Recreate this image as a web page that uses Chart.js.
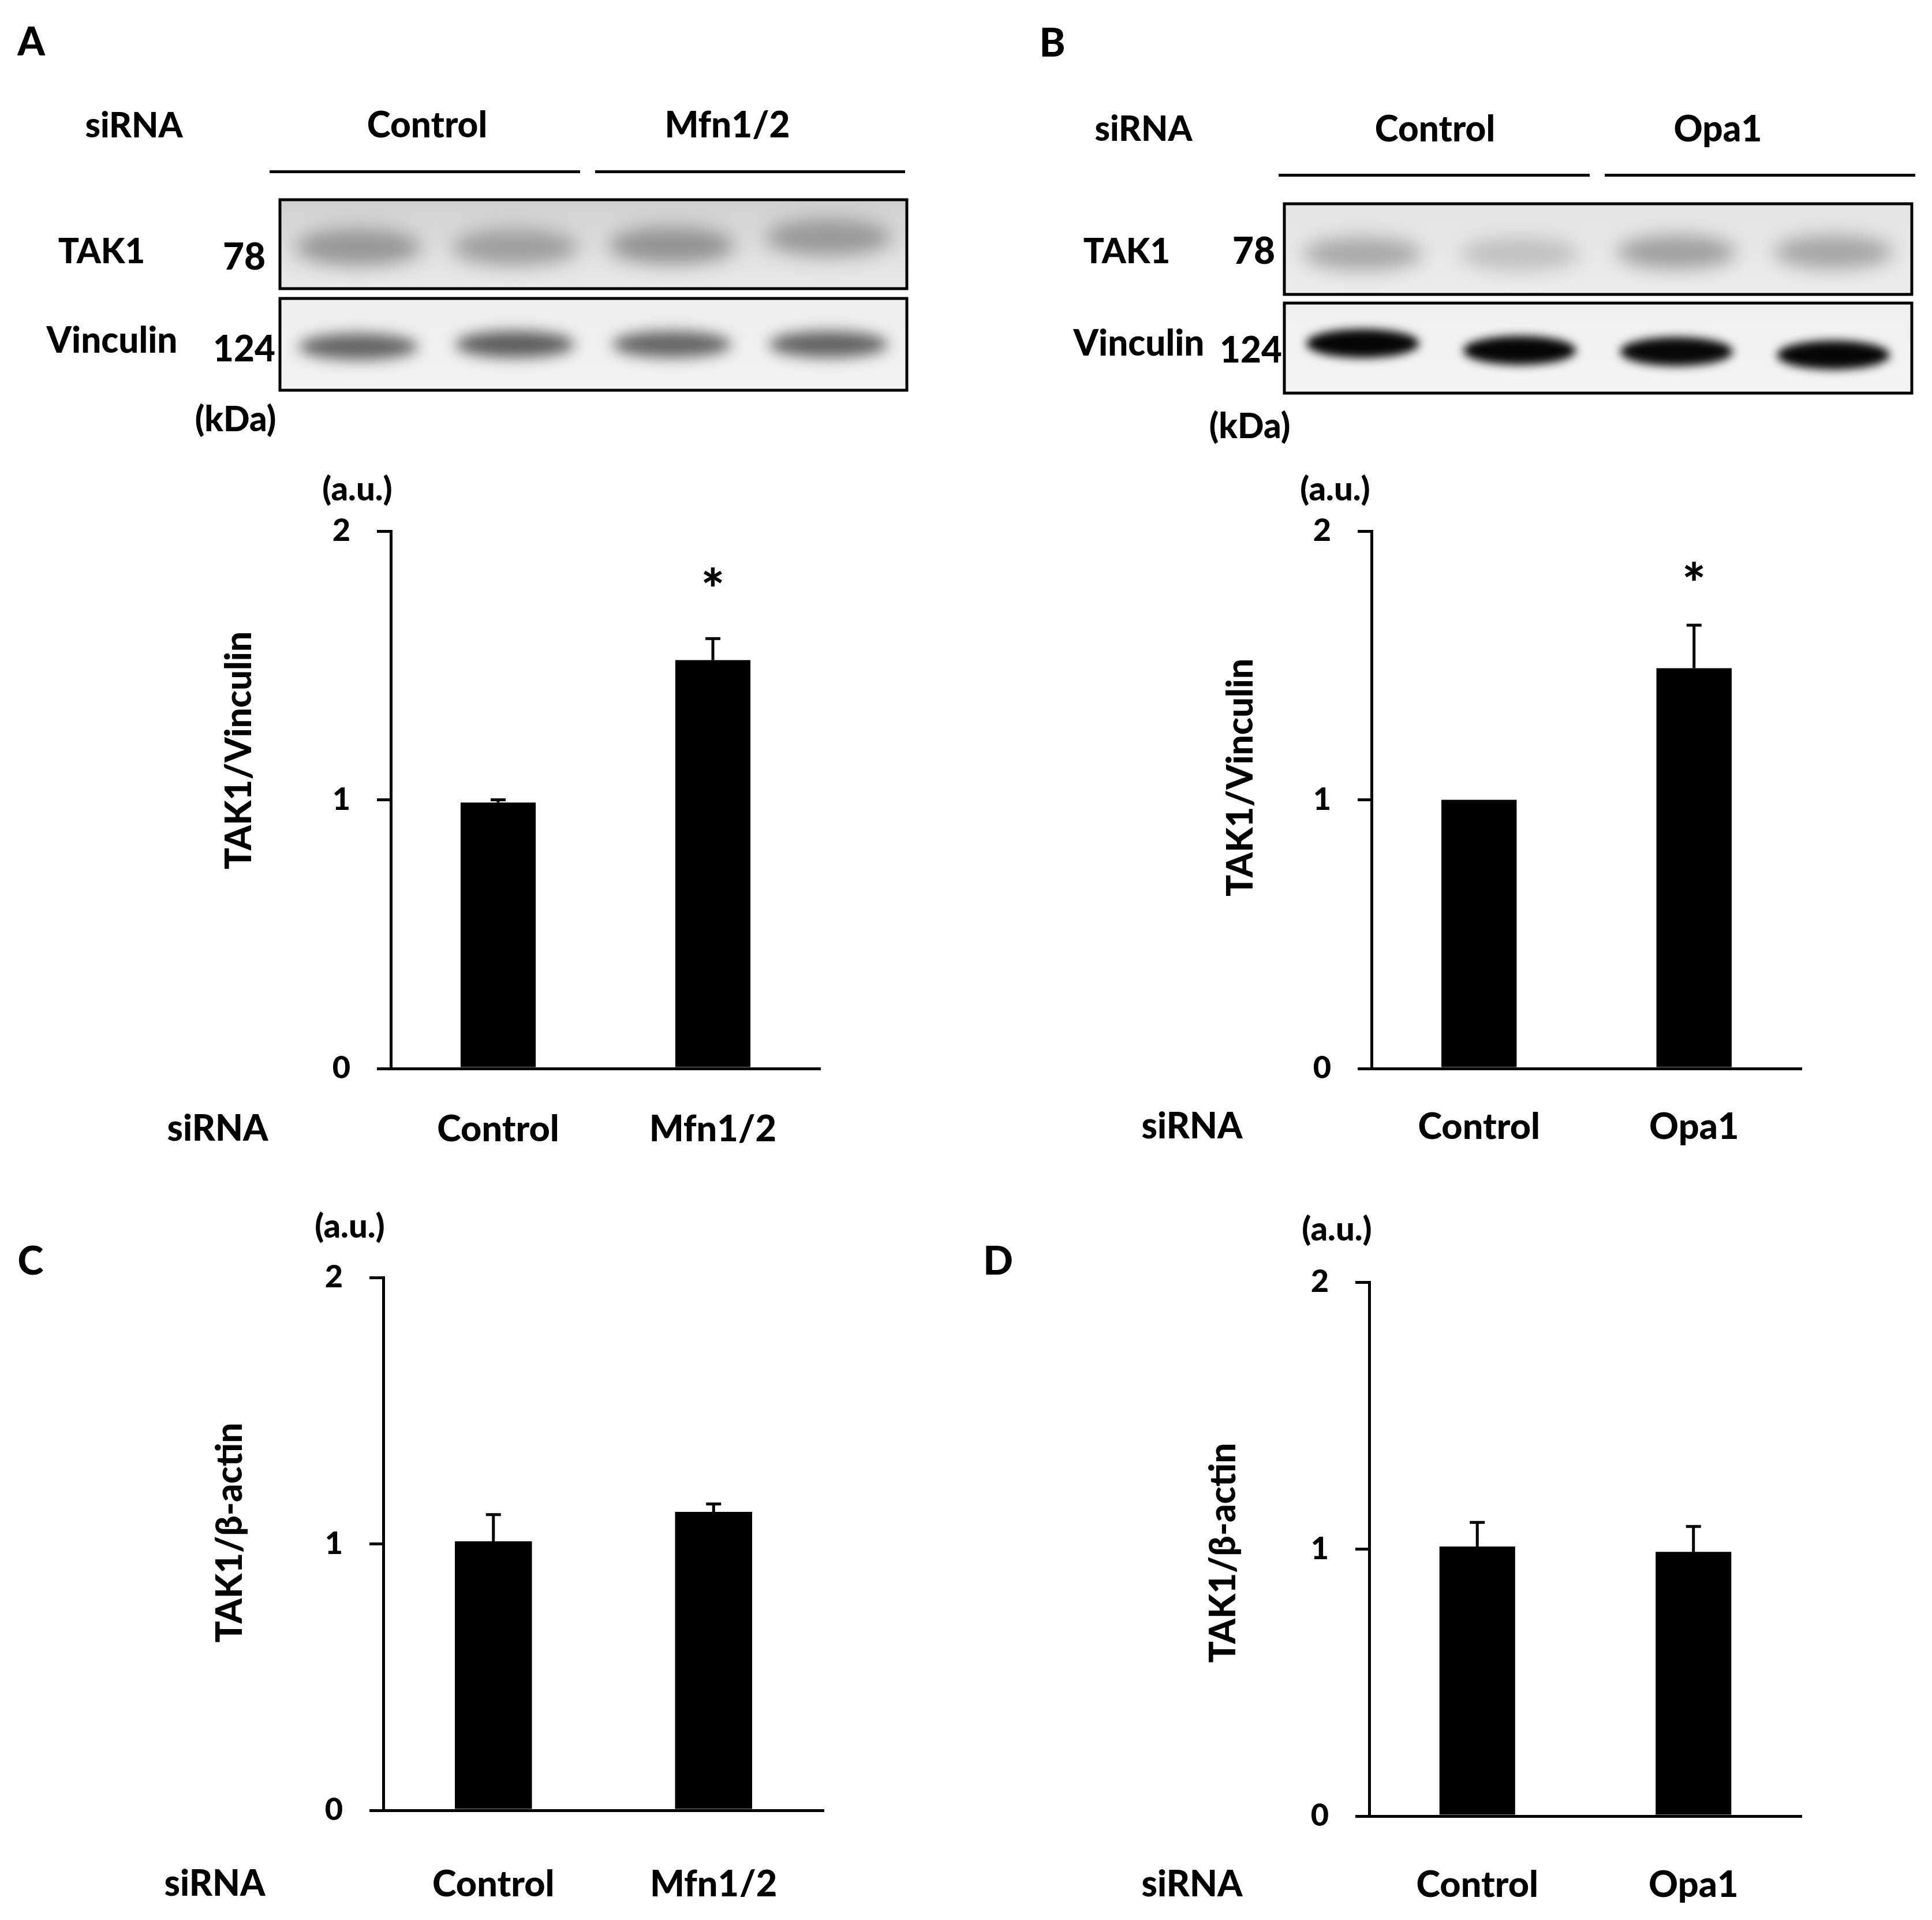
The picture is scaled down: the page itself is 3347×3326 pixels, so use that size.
<!DOCTYPE html>
<html><head><meta charset="utf-8">
<script src="https://cdn.jsdelivr.net/npm/chart.js@4.4.1/dist/chart.umd.min.js"></script>
<style>
html,body{margin:0;padding:0;background:#fff;}
#page{position:relative;width:3347px;height:3326px;background:#fff;overflow:hidden;font-family:Lato,'Open Sans',sans-serif;font-weight:900;color:#000;}
.t{position:absolute;transform:translate(-50%,-50%);white-space:nowrap;line-height:1;}
.ln{position:absolute;background:#000;height:5px;}
canvas{position:absolute;}
</style></head><body><div id="page">
<canvas id="blots" width="3347" height="800" style="left:0;top:0"></canvas>
<canvas id="cA" width="1400" height="1260" style="left:100px;top:780px"></canvas>
<canvas id="cB" width="1400" height="1260" style="left:1800px;top:780px"></canvas>
<canvas id="cC" width="1400" height="1266" style="left:100px;top:2060px"></canvas>
<canvas id="cD" width="1400" height="1266" style="left:1800px;top:2060px"></canvas>
</div>
<script>
// ---------- data ----------
const categoriesMfn = ['Control', 'Mfn1/2'];
const categoriesOpa = ['Control', 'Opa1'];
const valuesA = [0.99, 1.52];
const errorsA = [0.01, 0.08];
const signifA = [false, true];
const valuesB = [1.00, 1.49];
const errorsB = [0.00, 0.16];
const signifB = [false, true];
const valuesC = [1.01, 1.12];
const errorsC = [0.10, 0.03];
const signifC = [false, false];
const valuesD = [1.01, 0.99];
const errorsD = [0.09, 0.095];
const signifD = [false, false];
const yTickValues = [0, 1, 2];
// blot band grey level of band core (0=black, 255=white), 4 lanes
const bandsTak1A = [150, 158, 146, 152];
const bandsVincA = [100, 92, 100, 98];
const bandsTak1B = [168, 192, 158, 164];
const bandsVincB = [5, 5, 8, 5];

const FONT = "Lato, 'Open Sans', sans-serif";
const W = '900';
const page = document.getElementById('page');
function txt(s, x, y, size) {
  const d = document.createElement('div');
  d.className = 't'; d.textContent = s;
  d.style.left = x + 'px'; d.style.top = y + 'px'; d.style.fontSize = size + 'px';
  page.appendChild(d);
}
function line(x0, x1, y) {
  const d = document.createElement('div');
  d.className = 'ln'; d.style.left = x0 + 'px'; d.style.width = (x1 - x0) + 'px'; d.style.top = (y - 2) + 'px';
  page.appendChild(d);
}
// panel letters
txt('A', 54, 70, 68); txt('B', 1823, 72, 68); txt('C', 53, 2182, 68); txt('D', 1729, 2182, 68);
// blot headers A
txt('siRNA', 232, 215, 60); txt('Control', 740, 214, 62); txt('Mfn1/2', 1260, 214, 62);
line(467, 1005, 297); line(1031, 1568, 297);
txt('TAK1', 176, 433, 60); txt('78', 423, 443, 64);
txt('Vinculin', 194, 587, 62); txt('124', 423, 602, 62); txt('(kDa)', 408, 724, 60);
// blot headers B
txt('siRNA', 1981, 221, 60); txt('Control', 2486, 221, 62); txt('Opa1', 2976, 221, 62);
line(2215, 2754, 303); line(2780, 3318, 303);
txt('TAK1', 1952, 433, 60); txt('78', 2172, 433, 64);
txt('Vinculin', 1973, 592, 62); txt('124', 2167, 604, 62); txt('(kDa)', 2165, 736, 60);

// ---------- blots ----------
const bctx = document.getElementById('blots').getContext('2d');
function drawBlot(box, levels, bg, bandH, yOffs, blur, widthFrac) {
  const [x0, y0, x1, y1] = box;
  bctx.save();
  bctx.beginPath(); bctx.rect(x0, y0, x1 - x0, y1 - y0); bctx.clip();
  const g = bctx.createLinearGradient(0, y0, 0, y1);
  g.addColorStop(0, bg[0]); g.addColorStop(1, bg[1]);
  bctx.fillStyle = g; bctx.fillRect(x0, y0, x1 - x0, y1 - y0);
  bctx.filter = 'blur(' + blur + 'px)';
  const w = (x1 - x0) / 4;
  levels.forEach((lv, i) => {
    const cx = x0 + (i + 0.5) * w;
    const cy = (y0 + y1) / 2 + (yOffs[i] || 0);
    bctx.fillStyle = 'rgb(' + lv + ',' + lv + ',' + lv + ')';
    bctx.beginPath();
    bctx.ellipse(cx, cy, w * widthFrac / 2, bandH / 2, 0, 0, Math.PI * 2);
    bctx.fill();
  });
  bctx.filter = 'none';
  bctx.restore();
  bctx.lineWidth = 5; bctx.strokeStyle = '#000';
  bctx.strokeRect(x0, y0, x1 - x0, y1 - y0);
}
drawBlot([485, 346, 1571, 500], bandsTak1A, ['#d0d0d0', '#eaeaea'], 64, [5, 5, 2, -12], 16, 0.8);
drawBlot([485, 517, 1571, 676], bandsVincA, ['#eeeeee', '#f2f2f2'], 46, [4, 0, 0, 0], 12, 0.76);
drawBlot([2225, 353, 3312, 510], bandsTak1B, ['#e4e4e4', '#ececec'], 58, [8, 8, 5, 5], 16, 0.76);
drawBlot([2225, 525, 3312, 681], bandsVincB, ['#f0f0f0', '#f4f4f4'], 50, [-8, 4, 6, 12], 8, 0.72);

// ---------- charts ----------
Chart.defaults.font.family = FONT;
Chart.defaults.font.weight = W;
Chart.defaults.color = '#000';

const annotPlugin = {
  id: 'annot',
  afterDatasetsDraw(chart, args, o) {
    const ctx = chart.ctx;
    const ys = chart.scales.y;
    const meta = chart.getDatasetMeta(0);
    const vals = chart.data.datasets[0].data;
    ctx.save();
    ctx.strokeStyle = '#000'; ctx.fillStyle = '#000'; ctx.lineWidth = 5;
    meta.data.forEach((bar, i) => {
      const e = o.errors[i];
      const topPx = ys.getPixelForValue(vals[i] + e);
      if (e > 0) {
        ctx.beginPath();
        ctx.moveTo(bar.x, ys.getPixelForValue(vals[i]));
        ctx.lineTo(bar.x, topPx);
        ctx.moveTo(bar.x - 13, topPx);
        ctx.lineTo(bar.x + 13, topPx);
        ctx.stroke();
      }
      if (o.sig[i]) {
        ctx.font = W + ' 96px ' + FONT;
        ctx.textAlign = 'center'; ctx.textBaseline = 'alphabetic';
        ctx.fillText('*', bar.x, topPx - o.starGap);
      }
    });
    const [ox, oy] = o.origin;
    ctx.textAlign = 'center'; ctx.textBaseline = 'middle';
    ctx.font = W + ' 62px ' + FONT;
    ctx.fillText('siRNA', o.sirna[0] - ox, o.sirna[1] - oy);
    ctx.font = W + ' 58px ' + FONT;
    ctx.fillText('(a.u.)', o.au[0] - ox, o.au[1] - oy);
    ctx.save();
    ctx.translate(o.ytitle[0] - ox, o.ytitle[1] - oy);
    ctx.rotate(-Math.PI / 2);
    ctx.font = W + ' 62px ' + FONT;
    ctx.fillText(o.title, 0, 0);
    ctx.restore();
    ctx.restore();
  }
};

function makeChart(p) {
  new Chart(document.getElementById(p.id), {
    type: 'bar',
    data: {
      labels: p.cats,
      datasets: [{ data: p.vals, backgroundColor: '#000', borderWidth: 0, barPercentage: 0.35, categoryPercentage: 1.0 }]
    },
    options: {
      responsive: false, animation: false, devicePixelRatio: 1,
      layout: { padding: p.pad },
      plugins: { legend: { display: false }, tooltip: { enabled: false },
        annot: { errors: p.errs, sig: p.sig, starGap: p.starGap, origin: p.origin, sirna: p.sirna, au: p.au, ytitle: p.ytitle, title: p.title } },
      scales: {
        x: {
          offset: true,
          grid: { display: false, drawTicks: false },
          border: { display: true, color: '#000', width: 5 },
          ticks: { font: { size: 63, weight: W }, color: '#000', padding: p.xPad, maxRotation: 0, autoSkip: false },
          afterFit: s => { s.height = 150; }
        },
        y: {
          min: 0, max: 2,
          afterBuildTicks: s => { s.ticks = yTickValues.map(v => ({ value: v })); },
          grid: { display: true, drawOnChartArea: false, drawTicks: true, tickLength: 24, color: '#000', lineWidth: 5 },
          border: { display: true, color: '#000', width: 5 },
          ticks: { font: { size: 54, weight: W }, color: '#000', padding: 46 },
          afterFit: s => { s.width = p.yWidth; }
        }
      }
    },
    plugins: [annotPlugin]
  });
}

makeChart({ id: 'cA', cats: categoriesMfn, vals: valuesA, errs: errorsA, sig: signifA, title: 'TAK1/Vinculin',
  origin: [100, 780], yWidth: 577, pad: { left: 0, top: 140, right: 79, bottom: 39 }, xPad: 68, starGap: 50,
  sirna: [377, 1956], au: [619, 848], ytitle: [415, 1300] });
makeChart({ id: 'cB', cats: categoriesOpa, vals: valuesB, errs: errorsB, sig: signifB, title: 'TAK1/Vinculin',
  origin: [1800, 780], yWidth: 576, pad: { left: 0, top: 140, right: 79, bottom: 39 }, xPad: 64, starGap: 37,
  sirna: [2065, 1952], au: [2313, 848], ytitle: [2150, 1347] });
makeChart({ id: 'cC', cats: categoriesMfn, vals: valuesC, errs: errorsC, sig: signifC, title: 'TAK1/β-actin',
  origin: [100, 2060], yWidth: 564, pad: { left: 0, top: 153, right: 73, bottom: 40 }, xPad: 91, starGap: 50,
  sirna: [372, 3264], au: [606, 2125], ytitle: [399, 2655] });
makeChart({ id: 'cD', cats: categoriesOpa, vals: valuesD, errs: errorsD, sig: signifD, title: 'TAK1/β-actin',
  origin: [1800, 2060], yWidth: 572, pad: { left: 0, top: 161, right: 79, bottom: 30 }, xPad: 82, starGap: 50,
  sirna: [2065, 3265], au: [2316, 2130], ytitle: [2120, 2690] });
</script>
</body></html>
